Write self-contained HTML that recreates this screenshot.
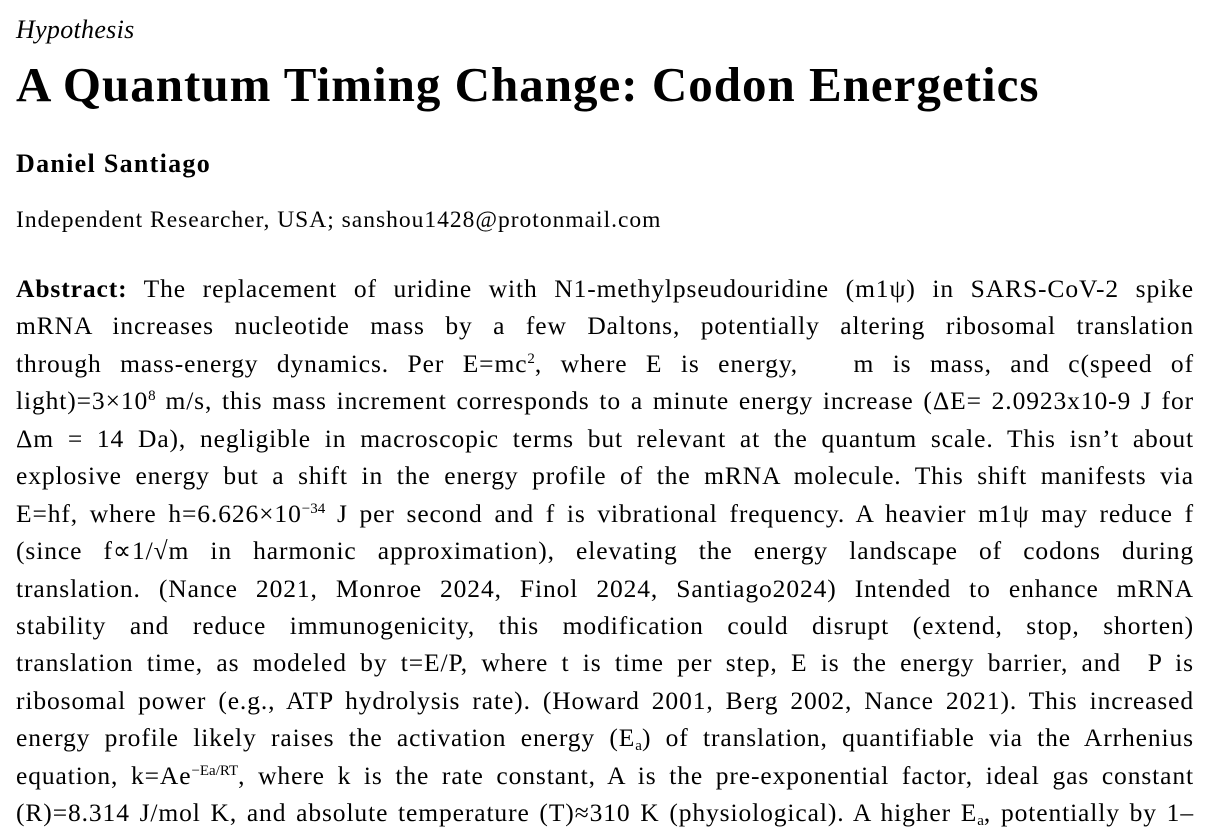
<!DOCTYPE html>
<html><head><meta charset="utf-8">
<style>
html,body{margin:0;padding:0;background:#fff;}
body{width:1210px;height:832px;overflow:hidden;position:relative;font-family:"Liberation Serif",serif;color:#000;}
.abs{position:absolute;left:16px;}
#kind{top:15px;font-size:26px;font-style:italic;letter-spacing:0.3px;}
#title{top:56px;font-size:49px;font-weight:bold;letter-spacing:1.0px;white-space:nowrap;}
#author{top:149px;font-size:26px;font-weight:bold;letter-spacing:1.3px;}
#aff{top:207px;font-size:23.5px;letter-spacing:1.0px;}
#abstract{top:270px;width:1178px;font-size:25.5px;line-height:37.45px;letter-spacing:0.9px;}
.ln{display:block;text-align:justify;text-align-last:justify;white-space:nowrap;height:37.45px;}
sup{font-size:15px;line-height:0;vertical-align:9px;letter-spacing:0;}
sub{font-size:15px;line-height:0;vertical-align:-4px;letter-spacing:0;}
</style></head>
<body>
<div id="kind" class="abs">Hypothesis</div>
<div id="title" class="abs">A Quantum Timing Change: Codon Energetics</div>
<div id="author" class="abs">Daniel Santiago</div>
<div id="aff" class="abs">Independent Researcher, USA; sanshou1428@protonmail.com</div>
<div id="abstract" class="abs">
<span class="ln" style="white-space:normal"><b>Abstract:</b> The replacement of uridine with N1-methylpseudouridine (m1ψ) in SARS-CoV-2 spike</span>
<span class="ln" style="white-space:normal">mRNA increases nucleotide mass by a few Daltons, potentially altering ribosomal translation</span>
<span class="ln" style="white-space:normal">through mass-energy dynamics. Per E=mc<sup>2</sup>, where E is energy, &nbsp;&nbsp;m is mass, and c(speed of</span>
<span class="ln" style="white-space:normal">light)=3×10<sup>8</sup> m/s, this mass increment corresponds to a minute energy increase (ΔE= 2.0923x10-9 J for</span>
<span class="ln" style="white-space:normal">Δm = 14 Da), negligible in macroscopic terms but relevant at the quantum scale. This isn’t about</span>
<span class="ln" style="white-space:normal">explosive energy but a shift in the energy profile of the mRNA molecule. This shift manifests via</span>
<span class="ln" style="white-space:normal">E=hf, where h=6.626×10<sup>−34</sup> J per second and f is vibrational frequency. A heavier m1ψ may reduce f</span>
<span class="ln" style="white-space:normal">(since f∝1/√m in harmonic approximation), elevating the energy landscape of codons during</span>
<span class="ln" style="white-space:normal">translation. (Nance 2021, Monroe 2024, Finol 2024, Santiago2024) Intended to enhance mRNA</span>
<span class="ln" style="white-space:normal">stability and reduce immunogenicity, this modification could disrupt (extend, stop, shorten)</span>
<span class="ln" style="white-space:normal">translation time, as modeled by t=E/P, where t is time per step, E is the energy barrier, and &nbsp;P is</span>
<span class="ln" style="white-space:normal">ribosomal power (e.g., ATP hydrolysis rate). (Howard 2001, Berg 2002, Nance 2021). This increased</span>
<span class="ln" style="white-space:normal">energy profile likely raises the activation energy (E<sub>a</sub>) of translation, quantifiable via the Arrhenius</span>
<span class="ln" style="white-space:normal">equation, k=Ae<sup>−Ea/RT</sup>, where k is the rate constant, A is the pre-exponential factor, ideal gas constant</span>
<span class="ln" style="white-space:normal">(R)=8.314 J/mol K, and absolute temperature (T)≈310 K (physiological). A higher E<sub>a</sub>, potentially by 1–</span>
</div>
</body></html>
